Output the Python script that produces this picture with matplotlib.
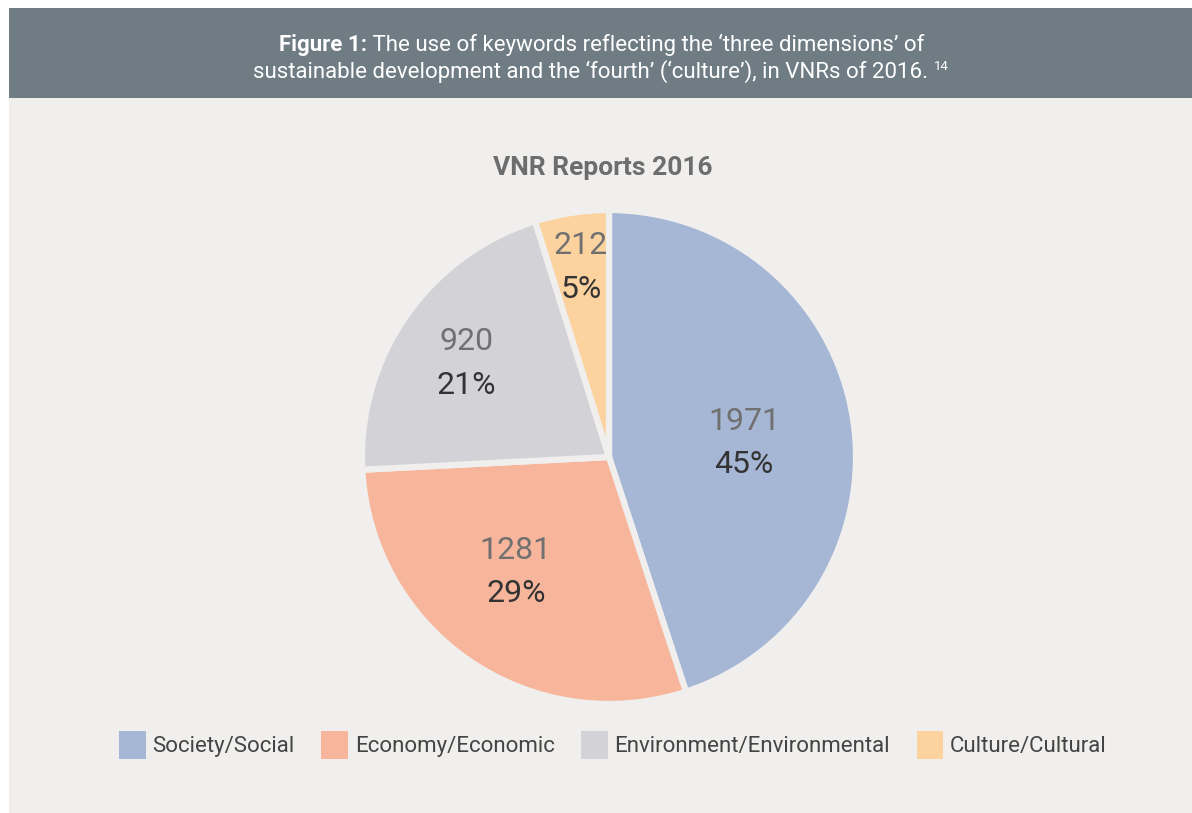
import numpy as np
import matplotlib.pyplot as plt
from matplotlib.patches import Rectangle

categories = ["Society/Social", "Economy/Economic", "Environment/Environmental", "Culture/Cultural"]
counts = [1971, 1281, 920, 212]
percents = ["45%", "29%", "21%", "5%"]
colors = ["#a6b6d5", "#f7b59b", "#d3d2d6", "#fcd29f"]

W, H = 1192, 813
panel = "#f0efed"
header = "#6f7c84"
plt.rcParams["font.family"] = ["Roboto", "DejaVu Sans"]

fig = plt.figure(figsize=(W / 100, H / 100), dpi=100, facecolor="white")

# header band and light panel (behind the axes)
fig.patches.append(Rectangle((9 / W, 0), 1 - 9 / W, 1 - 98 / H, transform=fig.transFigure,
                             facecolor=panel, edgecolor="none", zorder=-5))
fig.patches.append(Rectangle((9 / W, 1 - 98 / H), 1 - 9 / W, 90 / H, transform=fig.transFigure,
                             facecolor=header, edgecolor="none", zorder=-5))

# header text: bold lead-in + normal text, centred together
t1 = fig.text(0, 1 - 45 / H, "Figure 1:", color="white", fontsize=16, fontweight="bold",
              ha="left", va="center")
t2 = fig.text(0, 1 - 45 / H, " The use of keywords reflecting the \u2018three dimensions\u2019 of",
              color="white", fontsize=16, ha="left", va="center")
t3 = fig.text(0, 1 - 72 / H,
              "sustainable development and the \u2018fourth\u2019 (\u2018culture\u2019), in VNRs of 2016. ",
              color="white", fontsize=16, ha="left", va="center")
t4 = fig.text(0, 1 - 66 / H, "14", color="white", fontsize=9.5, ha="left", va="center")
fig.canvas.draw()
r = fig.canvas.get_renderer()
w1 = t1.get_window_extent(r).width
w2 = t2.get_window_extent(r).width
w3 = t3.get_window_extent(r).width
w4 = t4.get_window_extent(r).width
x0 = 602 - (w1 + w2) / 2
t1.set_x(x0 / W)
t2.set_x((x0 + w1) / W)
x0 = 601 - (w3 + w4) / 2
t3.set_x(x0 / W)
t4.set_x((x0 + w3) / W)

fig.text(603 / W, 1 - 168 / H, "VNR Reports 2016", color="#6d6d6d", fontsize=19,
         fontweight="bold", ha="center", va="center")

cx, cy, rad = 609, 457, 247
ax = fig.add_axes([(cx - rad) / W, (H - cy - rad) / H, 2 * rad / W, 2 * rad / H])
ax.set_facecolor("none")
wedges, _ = ax.pie(counts, colors=colors, startangle=90, counterclock=False, radius=1,
                   wedgeprops=dict(edgecolor=panel, linewidth=4.5))
ax.set_xlim(-1, 1)
ax.set_ylim(-1, 1)
ax.set_aspect("equal")
ax.axis("off")

# label radius and small angular nudge from each wedge's mid angle
label_r = [0.55, 0.6, 0.69, 0.775]
nudge = [-3.1, -4.5, 1.5, -0.3]
for w, n, p, lr, dn in zip(wedges, counts, percents, label_r, nudge):
    mid = np.deg2rad((w.theta1 + w.theta2) / 2 + dn)
    x, y = lr * np.cos(mid), lr * np.sin(mid)
    ax.text(x, y + 0.088, str(n), color="#707070", fontsize=23, ha="center", va="center")
    ax.text(x, y - 0.088, p, color="#333333", fontsize=23, ha="center", va="center")

leg = fig.legend(wedges, categories, loc="center", bbox_to_anchor=(613 / W, 1 - 745 / H), ncol=4,
                 frameon=False, prop={"size": 16}, handlelength=1.2,
                 handleheight=1.57, handletextpad=0.3, columnspacing=1.2, labelcolor="#444444")
for h in leg.legend_handles:
    h.set_edgecolor("none")

fig.savefig("out.png", dpi=100, facecolor="white")
